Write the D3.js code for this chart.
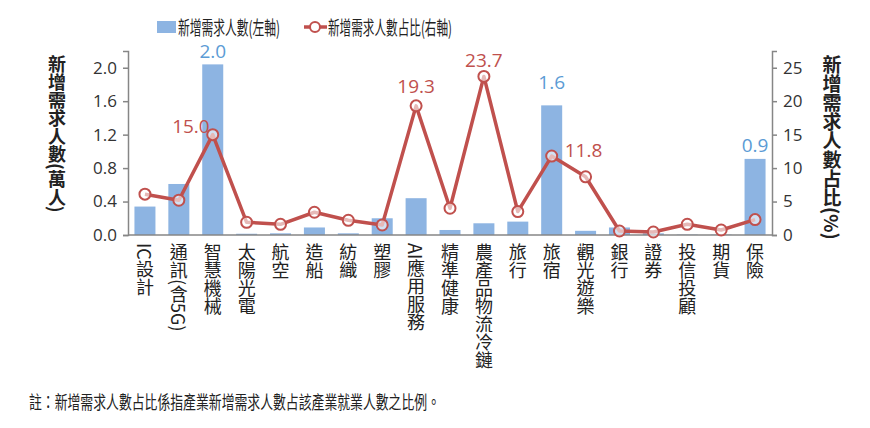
<!DOCTYPE html>
<html><head><meta charset="utf-8">
<script src="https://cdn.jsdelivr.net/npm/d3@7"></script>
<style>
body{margin:0;background:#fff;}
text{font-family:"Noto Sans CJK TC","Noto Sans",sans-serif;}
</style></head>
<body>
<svg id="c" width="870" height="428"></svg>
<script>
const categories = ["IC設計","通訊(含5G)","智慧機械","太陽光電","航空","造船","紡織","塑膠","AI應用服務","精準健康","農產品物流冷鏈","旅行","旅宿","觀光遊樂","銀行","證券","投信投顧","期貨","保險"];
const demand = [0.34,0.61,2.04,0.015,0.02,0.09,0.02,0.2,0.44,0.06,0.14,0.16,1.55,0.05,0.09,0.02,0.005,0.005,0.91];
const share = [6.1,5.2,15.0,1.9,1.6,3.4,2.2,1.5,19.3,4.0,23.7,3.5,11.8,8.7,0.6,0.45,1.6,0.75,2.3];
const leftTicks = [0,0.4,0.8,1.2,1.6,2.0];
const rightTicks = [0,5,10,15,20,25];
const barLabels = {2:"2.0",12:"1.6",18:"0.9"};
const lineLabels = {2:"15.0",8:"19.3",10:"23.7",12:"11.8"};

const svg = d3.select("#c");
const x0=128, x1=772, yb=235, yt=51;
const x = d3.scaleBand().domain(categories).range([x0,x1]).paddingInner(0.38).paddingOuter(0.19);
const yL = d3.scaleLinear().domain([0,2.2]).range([yb,yt]);
const yR = d3.scaleLinear().domain([0,27.5]).range([yb,yt]);
const blue="#8DB4E2", red="#C0504D", axisC="#868686";
const numFont="'Open Sans','Noto Sans',sans-serif";

// bars
svg.selectAll("rect.bar").data(demand).join("rect")
  .attr("x",(d,i)=>x(categories[i])).attr("width",x.bandwidth())
  .attr("y",d=>yL(d)).attr("height",d=>yb-yL(d)).attr("fill",blue);

// axes
const gl = svg.append("g").attr("transform",`translate(${x0},0)`)
  .call(d3.axisLeft(yL).tickValues(leftTicks).tickFormat(d3.format(".1f")).tickSize(5).tickPadding(6));
const gr = svg.append("g").attr("transform",`translate(${x1},0)`)
  .call(d3.axisRight(yR).tickValues(rightTicks).tickSize(5).tickPadding(6));
[gl,gr].forEach(g=>{
  g.select(".domain").attr("stroke",axisC).attr("stroke-width",1.5);
  g.selectAll(".tick line").attr("stroke",axisC).attr("stroke-width",1.5);
  g.selectAll(".tick text").attr("fill","#333").style("font-size","17px").style("font-family",numFont);
});
svg.append("line").attr("x1",x0).attr("x2",x1).attr("y1",yb).attr("y2",yb).attr("stroke",axisC).attr("stroke-width",1.5);

// line
const cx=(i)=>x(categories[i])+x.bandwidth()/2;
svg.append("path").datum(share)
  .attr("d",d3.line().x((d,i)=>cx(i)).y(d=>yR(d)))
  .attr("fill","none").attr("stroke",red).attr("stroke-width",3.5).attr("stroke-linejoin","round");
svg.selectAll("circle.m").data(share).join("circle")
  .attr("cx",(d,i)=>cx(i)).attr("cy",d=>yR(d)).attr("r",5.5)
  .attr("fill","#fff").attr("fill-opacity",0.6).attr("stroke",red).attr("stroke-width",2);

// data labels
const barOff={2:6,12:16,18:7};
Object.entries(barLabels).forEach(([i,t])=>{
  i=+i;
  svg.append("text").attr("x",cx(i)).attr("y",yL(demand[i])-barOff[i]).attr("text-anchor","middle")
   .attr("fill","#5B9BD5").style("font-size","19px").style("font-family",numFont).text(t);
});
Object.entries(lineLabels).forEach(([i,t])=>{
  i=+i; let xx=cx(i), yy=yR(share[i]), anchor="middle";
  if(i===2){xx-=3; yy-=2; anchor="end";}
  else if(i===12){xx+=13; yy+=1; anchor="start";}
  else if(i===8){yy-=13;}
  else {yy-=9;}
  svg.append("text").attr("x",xx).attr("y",yy).attr("text-anchor",anchor)
   .attr("fill",red).style("font-size","19px").style("font-family",numFont).text(t);
});

// category labels (vertical)
svg.selectAll("text.cat").data(categories).join("text")
  .attr("x",(d,i)=>cx(i)).attr("y",243)
  .attr("writing-mode","vertical-rl").style("font-size","18px").attr("fill","#222")
  .text(d=>d);

// axis titles
svg.append("text").attr("x",57).attr("y",55).attr("writing-mode","vertical-rl")
  .style("font-size","18px").style("font-weight","bold").attr("fill","#222").text("新增需求人數(萬人)");
svg.append("text").attr("x",832).attr("y",55).attr("writing-mode","vertical-rl")
  .style("font-size","19px").style("font-weight","bold").attr("fill","#222").text("新增需求人數占比(%)");

// legend
svg.append("rect").attr("x",157).attr("y",21).attr("width",19).attr("height",12).attr("fill",blue);
svg.append("text").attr("x",178).attr("y",35).attr("textLength",102).attr("lengthAdjust","spacingAndGlyphs")
  .style("font-size","19px").attr("fill","#222").text("新增需求人數(左軸)");
svg.append("line").attr("x1",304).attr("x2",327).attr("y1",27).attr("y2",27).attr("stroke",red).attr("stroke-width",3.5);
svg.append("circle").attr("cx",315).attr("cy",27).attr("r",5).attr("fill","#fff").attr("stroke",red).attr("stroke-width",2);
svg.append("text").attr("x",328).attr("y",35).attr("textLength",124).attr("lengthAdjust","spacingAndGlyphs")
  .style("font-size","19px").attr("fill","#222").text("新增需求人數占比(右軸)");

// footnote
svg.append("text").attr("x",29).attr("y",409).attr("textLength",411).attr("lengthAdjust","spacingAndGlyphs")
  .style("font-size","18px").attr("fill","#222")
  .text("註：新增需求人數占比係指產業新增需求人數占該產業就業人數之比例。");
</script>
</body></html>
